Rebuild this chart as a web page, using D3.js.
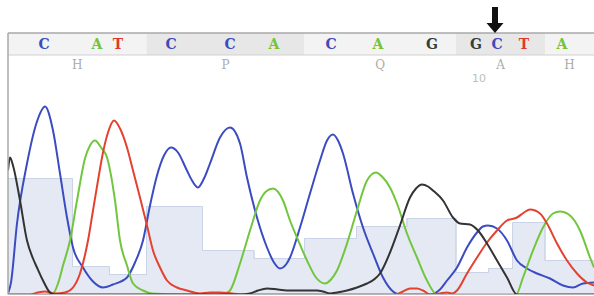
<!DOCTYPE html>
<html>
<head>
<meta charset="utf-8">
<script src="https://cdn.jsdelivr.net/npm/d3@7"></script>
<style>
  html, body { margin: 0; padding: 0; background: #fff; }
  svg { display: block; }
</style>
</head>
<body>
<svg id="chart" width="594" height="296"></svg>
<script>
// ---- Data ----
const bases = ["C","A","T","C","C","A","C","A","G","G","C","T","A"];
// base-call scan positions
const basePos = [36, 89, 110, 163, 222, 266, 323, 370, 424, 468, 489, 516, 554];
// per-base quality values
const quality = [29, 7, 5, 22, 11, 9, 14, 17, 19, 5.5, 6.5, 18, 8.5];
const aminoAcids = ["H", "P", "Q", "A", "H"];
const numberLabels = [{ index: 9, label: "10" }];
const variantIndex = 10;

// trace signals as [scan, signal]
const traceC = [[0,5],[3,60],[9,355],[19,655],[29,865],[37,940],[45,820],[52,605],[59,385],[65,235],[75,135],[85,65],[95,35],[105,50],[119,85],[127,160],[135,270],[142,445],[149,595],[156,695],[163,735],[170,710],[178,630],[184,570],[190,535],[196,580],[202,655],[212,785],[222,835],[232,755],[239,585],[249,385],[259,235],[266,160],[272,130],[278,150],[282,185],[292,335],[302,505],[312,670],[319,770],[325,800],[330,770],[335,705],[345,505],[355,335],[365,205],[375,85],[385,15],[392,0],[407,0],[422,0],[432,25],[439,70],[449,135],[459,235],[469,310],[475,340],[480,345],[489,330],[499,270],[509,170],[519,130],[529,105],[542,80],[555,45],[565,35],[575,55],[586,60]];
const traceA = [[0,0],[37,0],[45,5],[50,55],[55,145],[62,270],[69,470],[77,680],[82,745],[87,770],[93,735],[99,685],[107,470],[112,270],[119,145],[125,55],[135,20],[144,5],[172,0],[207,0],[217,5],[222,20],[232,155],[242,320],[252,470],[258,515],[265,530],[275,470],[282,370],[289,285],[299,170],[308,85],[317,55],[323,75],[329,120],[339,255],[349,420],[359,570],[368,610],[374,590],[382,535],[389,455],[399,305],[409,185],[419,70],[429,0],[462,0],[508,0],[515,85],[525,220],[535,335],[545,405],[552,415],[562,395],[572,320],[582,185],[586,135]];
const traceT = [[0,0],[22,0],[30,10],[37,15],[47,5],[57,10],[65,35],[72,105],[80,270],[85,420],[90,570],[95,710],[100,810],[106,870],[112,830],[119,735],[125,620],[132,485],[139,345],[145,220],[152,135],[159,70],[169,35],[179,20],[192,5],[202,10],[212,10],[224,5],[237,0],[387,0],[395,15],[402,30],[409,30],[415,20],[422,0],[432,5],[439,10],[444,5],[449,20],[459,105],[469,185],[479,260],[489,320],[499,370],[509,385],[516,410],[522,425],[532,405],[539,355],[549,255],[559,170],[569,105],[579,60],[586,45]];
const traceG = [[0,620],[2,685],[5,645],[12,470],[19,270],[25,180],[29,135],[35,70],[42,10],[47,0],[232,0],[242,5],[250,20],[259,30],[270,25],[282,20],[297,20],[309,20],[315,15],[322,5],[329,10],[339,20],[349,35],[359,55],[366,75],[372,105],[382,210],[392,345],[402,485],[408,530],[414,550],[420,540],[425,520],[435,470],[445,385],[452,355],[462,350],[470,320],[479,255],[489,170],[499,85],[509,0],[586,0]];

const traces = [
  { base: "C", values: traceC },
  { base: "A", values: traceA },
  { base: "T", values: traceT },
  { base: "G", values: traceG }
];

// ---- Styling ----
const baseColor = { C: "#3b4cc2", A: "#72c63e", T: "#e5412f", G: "#333333" };
const letterColor = { C: "#3d4bbd", A: "#74c43a", T: "#e0392b", G: "#3b3b3b" };

const W = 594, H = 296;
const left = 8, right = 594, plotTop = 56, baseY = 294.5;
const headerTop = 33, headerBottom = 55;

const svg = d3.select("#chart");

const x = d3.scaleLinear().domain([0, 586]).range([left, right]);
const y = d3.scaleLinear().domain([0, 1200]).range([baseY, baseY - 240]);
const yq = d3.scaleLinear().domain([0, 60]).range([baseY, baseY - 240]);

svg.append("defs").append("clipPath").attr("id", "plotClip")
  .append("rect").attr("x", left).attr("y", headerBottom).attr("width", right - left).attr("height", baseY - headerBottom);

// boundaries between bases
const bounds = [];
for (let i = 0; i < bases.length; i++) {
  const a = i === 0 ? left : (x(basePos[i - 1]) + x(basePos[i])) / 2 + 2;
  const b = i === bases.length - 1 ? right : (x(basePos[i]) + x(basePos[i + 1])) / 2 + 2;
  bounds.push([a, b]);
}

// ---- Header codon bands ----
const codons = aminoAcids.map((aa, k) => {
  const i0 = k * 3, i1 = Math.min(k * 3 + 2, bases.length - 1);
  return { aa, x0: bounds[i0][0], x1: bounds[i1][1], k };
});
svg.append("g").selectAll("rect").data(codons).join("rect")
  .attr("x", d => d.x0).attr("y", headerTop)
  .attr("width", d => d.x1 - d.x0).attr("height", headerBottom - headerTop)
  .attr("fill", d => d.k % 2 === 0 ? "#f3f3f3" : "#e7e7e7");

svg.append("line").attr("x1", left).attr("x2", right).attr("y1", headerTop).attr("y2", headerTop)
  .attr("stroke", "#a8a8a8").attr("stroke-width", 1.5);
svg.append("line").attr("x1", left).attr("x2", right).attr("y1", headerBottom).attr("y2", headerBottom)
  .attr("stroke", "#d0d0d0").attr("stroke-width", 1);

// base letters
svg.append("g").selectAll("text").data(bases).join("text")
  .attr("x", (d, i) => x(basePos[i]))
  .attr("y", 48.5)
  .attr("text-anchor", "middle")
  .attr("font-family", "'DejaVu Serif', serif")
  .attr("font-weight", "bold")
  .attr("font-size", 14)
  .attr("fill", d => letterColor[d])
  .text(d => d);

// amino acid letters
svg.append("g").selectAll("text").data(codons).join("text")
  .attr("x", d => (d.x0 + d.x1) / 2)
  .attr("y", 69)
  .attr("text-anchor", "middle")
  .attr("font-family", "'DejaVu Serif', serif")
  .attr("font-size", 12)
  .attr("fill", "#ababab")
  .text(d => d.aa);

// numbering
svg.append("g").selectAll("text").data(numberLabels).join("text")
  .attr("x", d => x(basePos[d.index]) + 3)
  .attr("y", 82)
  .attr("text-anchor", "middle")
  .attr("font-family", "'DejaVu Sans', sans-serif")
  .attr("font-size", 11)
  .attr("fill", "#bdbdbd")
  .text(d => d.label);

// ---- Quality bars ----
const qLine = [];
bounds.forEach((b, i) => {
  qLine.push([b[0], yq(quality[i])]);
  qLine.push([b[1], yq(quality[i])]);
});
const qArea = d3.area().x(d => d[0]).y0(baseY).y1(d => d[1]).curve(d3.curveLinear);
const gPlot = svg.append("g").attr("clip-path", "url(#plotClip)");
gPlot.append("path").datum(qLine).attr("d", qArea).attr("fill", "#e4e9f4");
gPlot.append("path").datum(qLine).attr("d", d3.line().x(d => d[0]).y(d => d[1]))
  .attr("fill", "none").attr("stroke", "#cbd4e6").attr("stroke-width", 1);
// vertical edges of quality bars
gPlot.append("g").selectAll("line").data(bounds.slice(1)).join("line")
  .attr("x1", d => d[0]).attr("x2", d => d[0])
  .attr("y1", (d, i) => yq(quality[i])).attr("y2", (d, i) => yq(quality[i + 1]))
  .attr("stroke", "#cbd4e6").attr("stroke-width", 1);

// ---- Traces ----
const line = d3.line().x(d => x(d[0])).y(d => y(d[1])).curve(d3.curveMonotoneX);
gPlot.append("g").selectAll("path").data(traces).join("path")
  .attr("d", d => line(d.values))
  .attr("fill", "none")
  .attr("stroke", d => baseColor[d.base])
  .attr("stroke-width", 2)
  .attr("stroke-linejoin", "round");

// frame
svg.append("line").attr("x1", left).attr("x2", left).attr("y1", headerTop).attr("y2", baseY)
  .attr("stroke", "#a8a8a8").attr("stroke-width", 1.5);
svg.append("line").attr("x1", left).attr("x2", right).attr("y1", baseY).attr("y2", baseY)
  .attr("stroke", "#b8b8b8").attr("stroke-width", 1);

// ---- Variant arrow ----
const ax = x(basePos[variantIndex]) - 2;
const arrow = [[ax - 3, 7], [ax + 3, 7], [ax + 3, 23], [ax + 8.5, 23], [ax, 33], [ax - 8.5, 23], [ax - 3, 23]];
svg.append("path").attr("d", d3.line()(arrow) + "Z").attr("fill", "#111");
</script>
</body>
</html>
